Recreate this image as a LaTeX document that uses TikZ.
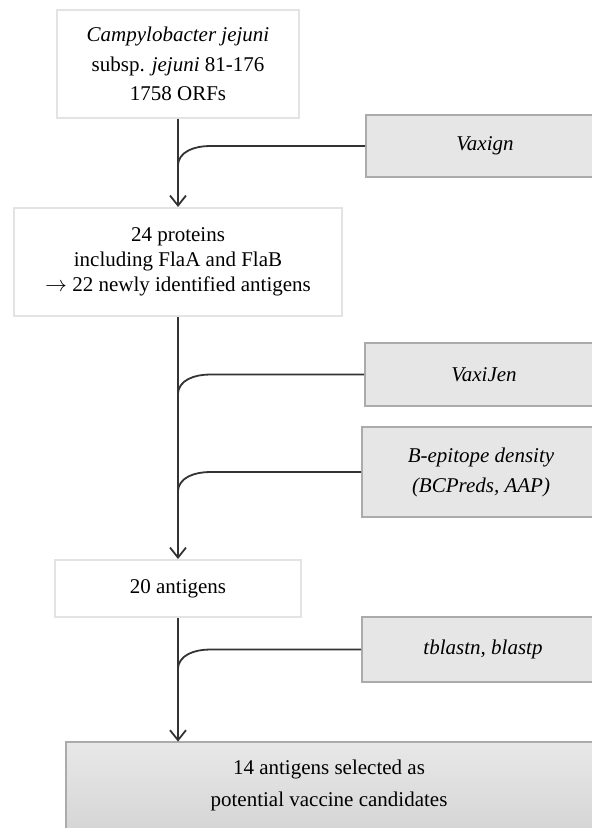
\documentclass[tikz,border=0pt]{standalone}
\usepackage{fontspec}
\setmainfont{Liberation Serif}
\usepackage{tikz}
\usetikzlibrary{arrows.meta}
\definecolor{stageline}{HTML}{E3E3E3}
\definecolor{toolfill}{HTML}{E6E6E6}
\definecolor{toolline}{HTML}{ABABAB}
\definecolor{flowline}{HTML}{333333}
\definecolor{finaltop}{HTML}{E8E8E8}
\definecolor{finalbottom}{HTML}{D6D6D6}
\newcommand{\feedline}[2] % {tool}{stage above}
{
	\draw [feed] (#1.west) -- ([xshift=16pt]#1.west -| #2) to [out=180,in=90] ([yshift=-10pt]#1.west -| #2);
}
\tikzset{
	stage/.style={draw=stageline, line width=1pt, fill=white, align=center, inner sep=0pt, font=\fontsize{10.5}{12.5}\selectfont},
	tool/.style={draw=toolline, line width=1pt, fill=toolfill, align=center, inner sep=0pt, minimum width=119pt, font=\fontsize{10.5}{15}\selectfont\itshape},
	flow/.style={draw=flowline, line width=0.9pt, -{Straight Barb[length=5pt,width=8pt]}},
	feed/.style={draw=flowline, line width=0.9pt},
}

\begin{document}
\begin{tikzpicture}[x=0.5pt, y=-0.5pt]

	\clip (0,0) rectangle (592,828);

	\node [stage, minimum width=121pt, minimum height=54pt, font=\fontsize{10.5}{14.75}\selectfont] (src) at (178,64) {\textit{Campylobacter jejuni}\\ subsp. \textit{jejuni} 81-176\\ 1758 ORFs};
	\node [stage, minimum width=164pt, minimum height=54pt] (hits) at (178,262) {24 proteins\\ including FlaA and FlaB\\ $\rightarrow$ 22 newly identified antigens};
	\node [stage, minimum width=123pt, minimum height=28.5pt] (ag20) at (178,588.5) {20 antigens};

	\node [tool, minimum height=31pt] (vaxign) at (485,146) {Vaxign};
	\node [tool, minimum height=31.5pt] (vaxijen) at (484,374.5) {VaxiJen};
	\node [tool, minimum height=45pt] (bepi) at (481,472) {B-epitope density\\ (BCPreds, AAP)};
	\node [tool, minimum width=121pt, minimum height=32.5pt] (blast) at (483,649.5) {tblastn, blastp};

	\node [top color=finaltop, bottom color=finalbottom, minimum width=263pt, minimum height=43pt, inner sep=0pt, align=center, font=\fontsize{10.5}{16}\selectfont] (final) at (329,785) {14 antigens selected as\\ potential vaccine candidates};
	\draw [toolline, line width=1pt] (final.south west) -- (final.north west) -- (final.north east);

	\draw [flow] (src) -- (hits);
	\draw [flow] (hits) -- (ag20);
	\draw [flow] (ag20.south) -- (ag20.south |- final.north);

	\feedline{vaxign}{src}
	\feedline{vaxijen}{hits}
	\feedline{bepi}{hits}
	\feedline{blast}{ag20}

	%\draw [red] (current bounding box.south west) rectangle (current bounding box.north east);
\end{tikzpicture}
\end{document}
